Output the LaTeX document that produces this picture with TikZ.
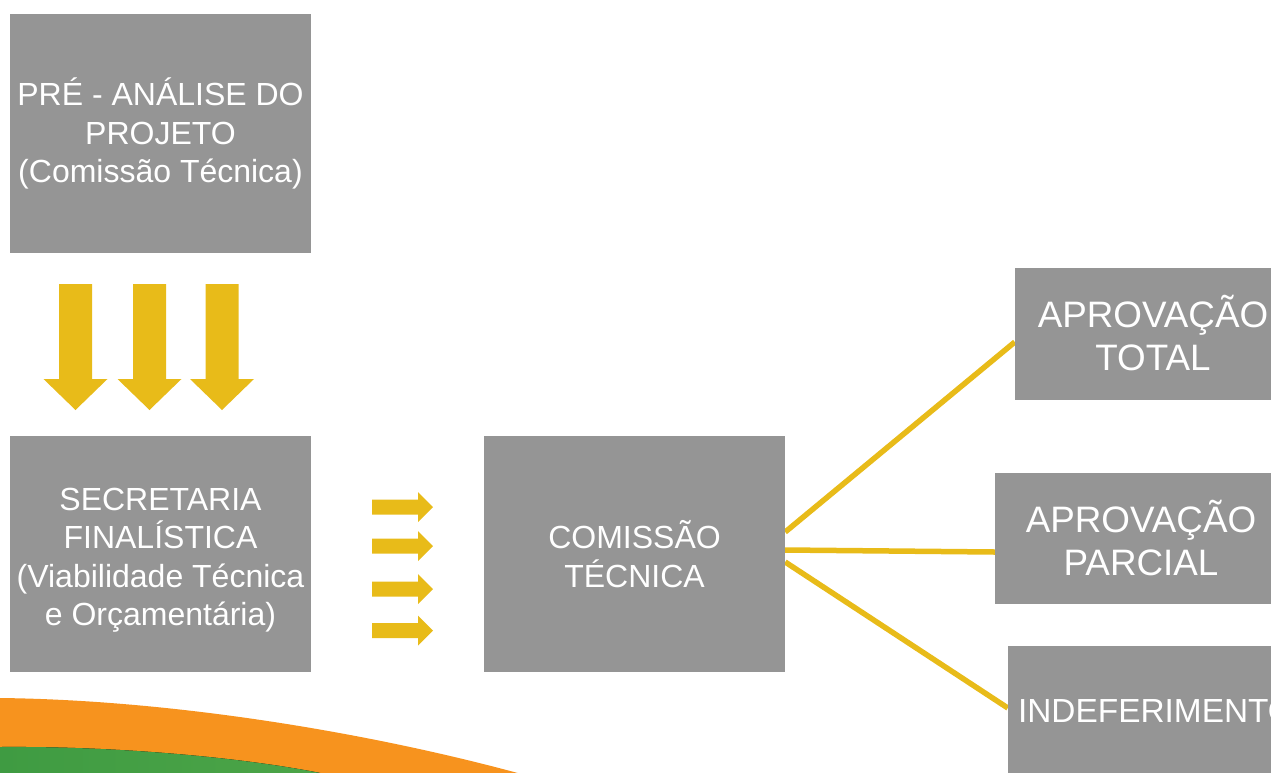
\documentclass[tikz,border=0pt]{standalone}
\usepackage{fontspec}
\setmainfont{Liberation Sans}
\usetikzlibrary{backgrounds}
\definecolor{boxgray}{HTML}{959595}
\definecolor{arrowyellow}{HTML}{E8BB19}
\definecolor{swooshorange}{HTML}{F7931E}
\definecolor{swooshgreen}{HTML}{3F9B42}
\definecolor{swooshgreenlight}{HTML}{4CA548}
\begin{document}
\begin{tikzpicture}[x=1pt,y=-1pt,
  graybox/.style={fill=boxgray, text=white, align=center, inner sep=0pt,
    font=\fontsize{32}{38.5}\selectfont},
  boxtext/.style={text=white, align=center, inner sep=0pt,
    font=\fontsize{32}{38.5}\selectfont},
  bigtext/.style={font=\fontsize{36.8}{43}\selectfont},
  yline/.style={draw=arrowyellow, line width=5.5pt},
  yarrow/.style={fill=arrowyellow}]
\useasboundingbox (0,0) rectangle (1271,772);

% swoosh
\fill[swooshorange] (0,698) .. controls (180,700) and (380,735) .. (525,775) -- (0,775) -- cycle;
\fill[left color=swooshgreen, right color=swooshgreenlight] (0,747) .. controls (120,746) and (250,758) .. (330,775) -- (0,775) -- cycle;

% boxes
\node[graybox, minimum width=301pt, minimum height=239pt] (pre) at (160.5,133.5)
  {PRÉ - ANÁLISE DO\\PROJETO\\(Comissão Técnica)};
\node[graybox, minimum width=301pt, minimum height=236pt] (sec) at (160.5,554) {};
\node[boxtext] (sectext) at ([yshift=-6pt]sec.center)
  {SECRETARIA\\FINALÍSTICA\\(Viabilidade Técnica\\e Orçamentária)};
\node[graybox, minimum width=301pt, minimum height=236pt] (com) at (634.5,554)
  {COMISSÃO\\TÉCNICA};
\node[graybox, bigtext, minimum width=276pt, minimum height=132pt] (tot) at (1153,333.5)
  {APROVAÇÃO\\TOTAL};
\node[graybox, bigtext, minimum width=292pt, minimum height=131pt] (par) at (1141,538.5)
  {APROVAÇÃO\\PARCIAL};
\node[graybox, font=\fontsize{33.4}{40}\selectfont, minimum width=296pt, minimum height=130pt] (ind) at (1156,711)
  {INDEFERIMENTO};

% connectors
\begin{pgfonlayer}{background}
\draw[yline] ([yshift=22pt]com.east) -- ([yshift=-8.5pt]tot.west);
\draw[yline] ([yshift=4pt]com.east) -- ([yshift=-13.5pt]par.west);
\draw[yline] ([yshift=-8pt]com.east) -- ([yshift=3pt]ind.west);
\end{pgfonlayer}

% down arrows
\foreach \cx in {75.5,149.5,222}
  \fill[yarrow] (\cx-16.5,284) -- (\cx+16.5,284) -- (\cx+16.5,379) -- (\cx+32,379)
    -- (\cx,410) -- (\cx-32,379) -- (\cx-16.5,379) -- cycle;

% right arrows
\foreach \cy in {507,546,589,630.5}
  \fill[yarrow] (372,\cy-7.5) -- (418,\cy-7.5) -- (418,\cy-15) -- (433,\cy)
    -- (418,\cy+15) -- (418,\cy+7.5) -- (372,\cy+7.5) -- cycle;
\end{tikzpicture}
\end{document}
